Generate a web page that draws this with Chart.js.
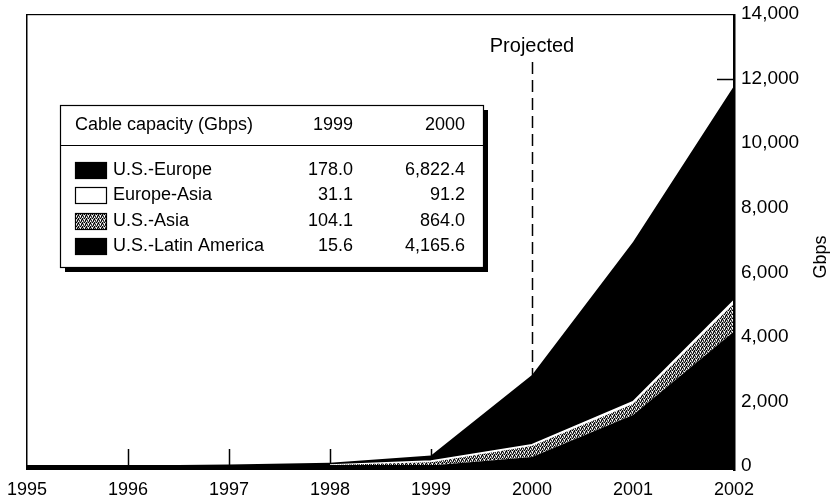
<!DOCTYPE html>
<html>
<head>
<meta charset="utf-8">
<script src="https://cdn.jsdelivr.net/npm/chart.js@4.4.0/dist/chart.umd.min.js"></script>
<style>
html, body { margin: 0; padding: 0; background: #fff; }
#wrap { position: relative; width: 835px; height: 502px; }
</style>
</head>
<body>
<div id="wrap"><canvas id="chart" width="835" height="502"></canvas></div>
<script>
// Data (stacked, bottom to top: Latin America, U.S.-Asia, Europe-Asia, U.S.-Europe)
const years = ['1995', '1996', '1997', '1998', '1999', '2000', '2001', '2002'];
const usLatAm = [0, 1, 3, 8, 15.6, 280, 1580, 4165.6];
const usAsia = [0, 2, 8, 20, 104.1, 340, 340, 864.0];
const europeAsia = [0, 0, 0, 4, 31.1, 40, 70, 91.2];
const usEurope = [5, 15, 35, 70, 178.0, 2160, 4950, 6650];
const yTicks = [0, 2000, 4000, 6000, 8000, 10000, 12000, 14000];

// Inset table
const tableHeader = ['Cable capacity (Gbps)', '1999', '2000'];
const tableNames = ['U.S.-Europe', 'Europe-Asia', 'U.S.-Asia', 'U.S.-Latin America'];
const table1999 = ['178.0', '31.1', '104.1', '15.6'];
const table2000 = ['6,822.4', '91.2', '864.0', '4,165.6'];
const projectedYear = '2000';

const FAMILY = '"Liberation Sans", Arial, Helvetica, sans-serif';
const FONT = '18px ' + FAMILY;

// speckled grey fill for U.S.-Asia
const makeStipple = () => {
    const c = document.createElement('canvas');
    c.width = 4; c.height = 4;
    const g = c.getContext('2d');
    const px = [
        ['#fff', '#000', '#999', '#222'],
        ['#888', '#222', '#fff', '#555'],
        ['#000', '#ccc', '#111', '#999'],
        ['#eee', '#555', '#000', '#bbb']
    ];
    px.forEach((row, y) => row.forEach((col, x) => { g.fillStyle = col; g.fillRect(x, y, 1, 1); }));
    return g.createPattern(c, 'repeat');
};
const stipple = makeStipple();

const decorations = {
    id: 'decorations',
    beforeDatasetsDraw(chart) {
        const { ctx, chartArea: a, scales: { x, y } } = chart;
        ctx.save();
        ctx.strokeStyle = '#000';
        ctx.lineWidth = 1.5;
        // inner tick marks (covered by the areas where they overlap)
        for (let i = 1; i < years.length - 1; i++) {
            const px = Math.round(x.getPixelForValue(i)) + 0.5;
            ctx.beginPath(); ctx.moveTo(px, a.bottom); ctx.lineTo(px, a.bottom - 17); ctx.stroke();
        }
        yTicks.slice(1, -1).forEach(v => {
            const py = Math.round(y.getPixelForValue(v)) + 0.5;
            ctx.beginPath(); ctx.moveTo(a.right, py); ctx.lineTo(a.right - 17, py); ctx.stroke();
        });
        // projected divider
        const pxp = Math.round(x.getPixelForValue(years.indexOf(projectedYear))) + 0.5;
        ctx.setLineDash([12, 6]);
        ctx.beginPath(); ctx.moveTo(pxp, 62); ctx.lineTo(pxp, a.bottom); ctx.stroke();
        ctx.restore();
    },
    afterDatasetsDraw(chart) {
        const { ctx, chartArea: a } = chart;
        ctx.save();
        ctx.fillStyle = '#000';
        ctx.fillRect(a.left - 1, a.top, 1.5, a.bottom - a.top);        // left frame
        ctx.fillRect(a.left - 1, a.top, a.right - a.left + 1, 1.2);    // top frame
        ctx.fillRect(a.right - 1, a.top, 2.5, a.bottom - a.top + 5);   // right axis
        ctx.fillRect(a.left - 1, a.bottom - 1, a.right - a.left + 2, 5); // baseline
        ctx.restore();
    },
    afterDraw(chart) {
        const { ctx, scales: { x } } = chart;
        ctx.save();
        ctx.fillStyle = '#000';
        ctx.textBaseline = 'middle';

        // "Projected" label
        ctx.font = '20px ' + FAMILY;
        ctx.textAlign = 'center';
        ctx.fillText('Projected', x.getPixelForValue(years.indexOf(projectedYear)), 46);

        // axis title
        ctx.font = FONT;
        ctx.save();
        ctx.translate(821, 257);
        ctx.rotate(-Math.PI / 2);
        ctx.fillText('Gbps', 0, 0);
        ctx.restore();

        // inset table
        const lx = 60, ly = 105, lw = 423, lh = 162;
        ctx.fillRect(lx + 5, ly + 5, lw, lh);
        ctx.fillStyle = '#fff';
        ctx.fillRect(lx, ly, lw, lh);
        ctx.strokeStyle = '#000';
        ctx.lineWidth = 1.2;
        ctx.strokeRect(lx + 0.5, ly + 0.5, lw, lh);
        ctx.beginPath(); ctx.moveTo(lx, 145.5); ctx.lineTo(lx + lw, 145.5); ctx.stroke();

        ctx.fillStyle = '#000';
        ctx.textAlign = 'left';
        ctx.fillText(tableHeader[0], 75, 125);
        ctx.textAlign = 'right';
        ctx.fillText(tableHeader[1], 353, 125);
        ctx.fillText(tableHeader[2], 465, 125);

        const rows = [170, 195, 221, 246];
        const swatches = ['#000', '#fff', stipple, '#000'];
        tableNames.forEach((name, i) => {
            const ry = rows[i];
            ctx.fillStyle = swatches[i];
            ctx.fillRect(75, ry - 8, 32, 17);
            ctx.strokeStyle = '#000';
            ctx.lineWidth = 1.2;
            ctx.strokeRect(75.5, ry - 7.5, 31, 16);
            ctx.fillStyle = '#000';
            ctx.textAlign = 'left';
            ctx.fillText(name, 113, ry);
            ctx.textAlign = 'right';
            ctx.fillText(table1999[i], 353, ry);
            ctx.fillText(table2000[i], 465, ry);
        });
        ctx.restore();
    }
};

const area = (label, data, bg, fill, extra) => Object.assign({
    label, data, backgroundColor: bg, fill,
    borderWidth: 0, pointRadius: 0, tension: 0
}, extra || {});

new Chart(document.getElementById('chart'), {
    type: 'line',
    data: {
        labels: years,
        datasets: [
            area('U.S.-Latin America', usLatAm, '#000', 'origin'),
            area('U.S.-Asia', usAsia, stipple, '-1'),
            area('Europe-Asia', europeAsia, '#fff', '-1', {
                borderWidth: 1.6,
                borderColor: '#fff',
                segment: { borderColor: c => c.p0DataIndex < 3 ? 'rgba(0,0,0,0)' : '#fff' }
            }),
            area('U.S.-Europe', usEurope, '#000', '-1')
        ]
    },
    options: {
        responsive: false,
        animation: false,
        devicePixelRatio: 1,
        layout: { padding: { left: 27, top: 14, right: 0, bottom: 0 } },
        plugins: { legend: { display: false }, tooltip: { enabled: false } },
        scales: {
            x: {
                type: 'category',
                offset: false,
                grid: { display: false, drawTicks: false },
                border: { display: false },
                ticks: { color: '#000', font: { family: FAMILY, size: 18 }, padding: 13, maxRotation: 0, autoSkip: false },
                afterFit: s => { s.height = 36; s.paddingLeft = 0; s.paddingRight = 0; }
            },
            y: {
                position: 'right',
                stacked: true,
                min: 0,
                max: 14000,
                grid: { display: false, drawTicks: false },
                border: { display: false },
                ticks: {
                    stepSize: 2000,
                    color: '#000',
                    padding: 7,
                    font: { family: FAMILY, size: 19 },
                    callback: v => v.toLocaleString('en-US')
                },
                afterFit: s => { s.width = 101; s.paddingTop = 0; s.paddingBottom = 0; }
            }
        }
    },
    plugins: [decorations]
});
</script>
</body>
</html>
